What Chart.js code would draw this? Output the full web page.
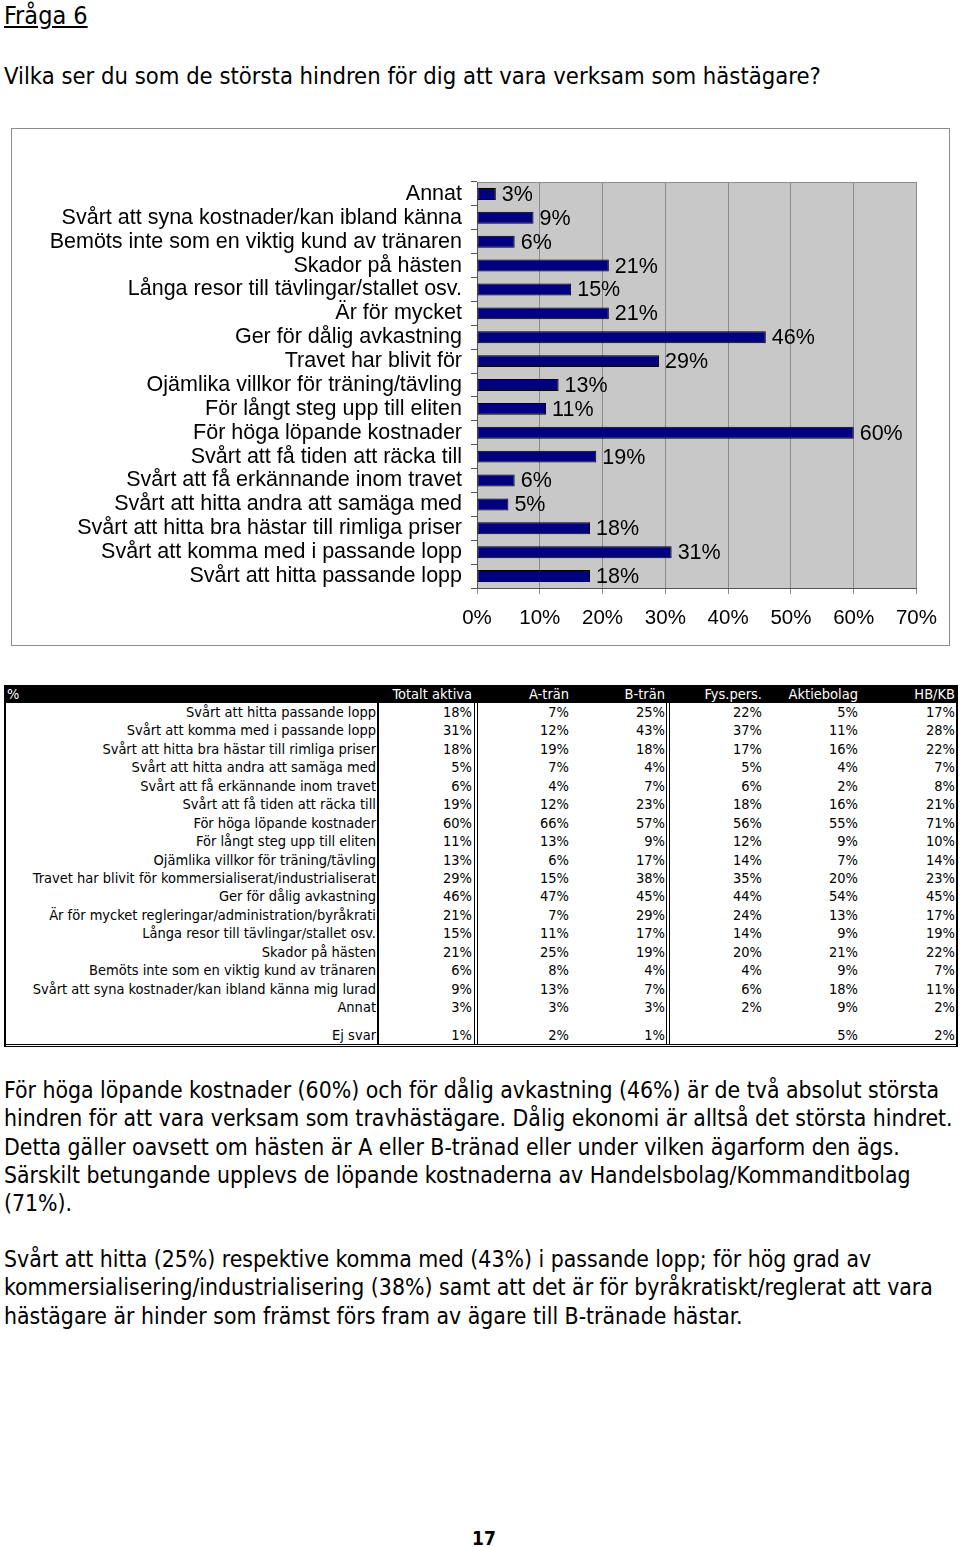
<!DOCTYPE html>
<html lang="sv">
<head>
<meta charset="utf-8">
<title>Fråga 6</title>
<script src="https://cdn.jsdelivr.net/npm/chart.js@4.4.0/dist/chart.umd.min.js"></script>
<style>
  body { margin: 0; background: #fff; width: 960px; height: 1547px; position: relative; overflow: hidden;
         font-family: 'DejaVu Sans Condensed', 'DejaVu Sans', sans-serif; color: #000; }
  .abs { position: absolute; white-space: nowrap; }
  #heading { left: 4px; top: 2px; font-size: 25px; line-height: 28px; text-decoration: underline; }
  #question { left: 4px; top: 62px; font-size: 23.6px; line-height: 28px; }
  #chart-box { left: 11px; top: 128px; width: 937px; height: 516px; border: 1px solid #8c8c8c; }
  .cell { position: absolute; font-size: 14.5px; white-space: nowrap; }
  .line { position: absolute; background: #000; }
  .text { left: 4px; font-size: 22.8px; line-height: 28.3px; }
  #page-no { left: 472px; top: 1527px; font-size: 19px; font-weight: bold; }
</style>
</head>
<body>

<div id="heading" class="abs">Fråga 6</div>
<div id="question" class="abs">Vilka ser du som de största hindren för dig att vara verksam som hästägare?</div>

<div id="chart-box" class="abs">
  <canvas id="hinder-chart"></canvas>
</div>

<div id="table"></div>

<div class="abs text" style="top:1076px">För höga löpande kostnader (60%) och för dålig avkastning (46%) är de två absolut största<br>hindren för att vara verksam som travhästägare. Dålig ekonomi är alltså det största hindret.<br>Detta gäller oavsett om hästen är A eller B-tränad eller under vilken ägarform den ägs.<br>Särskilt betungande upplevs de löpande kostnaderna av Handelsbolag/Kommanditbolag<br>(71%).</div>

<div class="abs text" style="top:1245px">Svårt att hitta (25%) respektive komma med (43%) i passande lopp; för hög grad av<br>kommersialisering/industrialisering (38%) samt att det är för byråkratiskt/reglerat att vara<br>hästägare är hinder som främst förs fram av ägare till B-tränade hästar.</div>

<div id="page-no" class="abs">17</div>

<script>
// categories in table order (the chart shows them bottom to top)
const categories = [
    'Svårt att hitta passande lopp',
    'Svårt att komma med i passande lopp',
    'Svårt att hitta bra hästar till rimliga priser',
    'Svårt att hitta andra att samäga med',
    'Svårt att få erkännande inom travet',
    'Svårt att få tiden att räcka till',
    'För höga löpande kostnader',
    'För långt steg upp till eliten',
    'Ojämlika villkor för träning/tävling',
    'Travet har blivit för kommersialiserat/industrialiserat',
    'Ger för dålig avkastning',
    'Är för mycket regleringar/administration/byråkrati',
    'Långa resor till tävlingar/stallet osv.',
    'Skador på hästen',
    'Bemöts inte som en viktig kund av tränaren',
    'Svårt att syna kostnader/kan ibland känna mig lurad',
    'Annat'
];

// the chart's own (cut) axis labels
const chartLabels = [
    'Svårt att hitta passande lopp',
    'Svårt att komma med i passande lopp',
    'Svårt att hitta bra hästar till rimliga priser',
    'Svårt att hitta andra att samäga med',
    'Svårt att få erkännande inom travet',
    'Svårt att få tiden att räcka till',
    'För höga löpande kostnader',
    'För långt steg upp till eliten',
    'Ojämlika villkor för träning/tävling',
    'Travet har blivit för',
    'Ger för dålig avkastning',
    'Är för mycket',
    'Långa resor till tävlingar/stallet osv.',
    'Skador på hästen',
    'Bemöts inte som en viktig kund av tränaren',
    'Svårt att syna kostnader/kan ibland känna',
    'Annat'
];

const totaltAktiva = [18, 31, 18, 5, 6, 19, 60, 11, 13, 29, 46, 21, 15, 21, 6, 9, 3];
const aTran        = [7, 12, 19, 7, 4, 12, 66, 13, 6, 15, 47, 7, 11, 25, 8, 13, 3];
const bTran        = [25, 43, 18, 4, 7, 23, 57, 9, 17, 38, 45, 29, 17, 19, 4, 7, 3];
const fysPers      = [22, 37, 17, 5, 6, 18, 56, 12, 14, 35, 44, 24, 14, 20, 4, 6, 2];
const aktiebolag   = [5, 11, 16, 4, 2, 16, 55, 9, 7, 20, 54, 13, 9, 21, 9, 18, 9];
const hbKb         = [17, 28, 22, 7, 8, 21, 71, 10, 14, 23, 45, 17, 19, 22, 7, 11, 2];
const ejSvar       = [1, 2, 1, null, 5, 2];

const columnHeaders = ['Totalt aktiva', 'A-trän', 'B-trän', 'Fys.pers.', 'Aktiebolag', 'HB/KB'];
const xTicks = [0, 10, 20, 30, 40, 50, 60, 70];

// ---------- table ----------
const buildTable = () => {
    const table = document.getElementById('table');
    const columns = [totaltAktiva, aTran, bTran, fysPers, aktiebolag, hbKb];
    const rights = [472, 569, 665, 762, 858, 955];
    const rowH = 18.44;
    const firstRow = 703;

    const addCell = (text, right, top, color) => {
        const div = document.createElement('div');
        div.className = 'cell';
        div.textContent = text;
        div.style.right = (960 - right) + 'px';
        div.style.top = top + 'px';
        div.style.height = rowH + 'px';
        div.style.lineHeight = rowH + 'px';
        if (color) div.style.color = color;
        table.appendChild(div);
    };
    const addLine = (left, top, width, height) => {
        const div = document.createElement('div');
        div.className = 'line';
        div.style.left = left + 'px';
        div.style.top = top + 'px';
        div.style.width = width + 'px';
        div.style.height = height + 'px';
        table.appendChild(div);
    };

    // header row
    addLine(4, 685, 954, 18);
    const pct = document.createElement('div');
    pct.className = 'cell';
    pct.textContent = '%';
    pct.style.left = '7px';
    pct.style.top = '685px';
    pct.style.lineHeight = '18px';
    pct.style.color = '#fff';
    table.appendChild(pct);
    columnHeaders.forEach((h, c) => addCell(h, rights[c], 685, '#fff'));

    categories.forEach((cat, r) => {
        const top = firstRow + r * rowH;
        addCell(cat, 376, top);
        columns.forEach((col, c) => addCell(col[r] + '%', rights[c], top));
    });

    const ejTop = firstRow + categories.length * rowH + 9.5;
    addCell('Ej svar', 376, ejTop);
    ejSvar.forEach((v, c) => { if (v !== null) addCell(v + '%', rights[c], ejTop); });

    const bottom = ejTop + rowH;
    addLine(4, 685, 2, bottom - 685 + 2);
    addLine(956, 685, 2, bottom - 685 + 2);
    addLine(377, 703, 2, bottom - 703);
    addLine(474, 703, 1, bottom - 703);
    addLine(477, 703, 1, bottom - 703);
    addLine(666, 703, 1, bottom - 703);
    addLine(669, 703, 1, bottom - 703);
    addLine(4, bottom, 954, 1);
    addLine(4, bottom + 2, 954, 1);
};

// ---------- chart ----------
const plotArea = {
    id: 'plotArea',
    beforeDraw(chart) {
        const { ctx, chartArea: a } = chart;
        ctx.save();
        ctx.fillStyle = '#c8c8c8';
        ctx.fillRect(a.left, a.top, a.right - a.left, a.bottom - a.top);
        ctx.strokeStyle = '#8c8c8c';
        ctx.lineWidth = 1;
        ctx.beginPath();
        ctx.moveTo(a.left, a.top + 0.5);
        ctx.lineTo(a.right, a.top + 0.5);
        ctx.stroke();
        ctx.restore();
    }
};

const valueLabels = {
    id: 'valueLabels',
    afterDatasetsDraw(chart) {
        const ctx = chart.ctx;
        const meta = chart.getDatasetMeta(0);
        ctx.save();
        ctx.font = "21.5px 'Liberation Sans', Arial, sans-serif";
        ctx.fillStyle = '#000';
        ctx.textAlign = 'left';
        ctx.textBaseline = 'middle';
        meta.data.forEach((bar, i) => {
            ctx.fillText(totaltAktiva[i] + '%', bar.x + 6, bar.y + 1);
        });
        ctx.restore();
    }
};

const initChart = () => {
    Chart.defaults.font.family = "'Liberation Sans', Arial, Helvetica, sans-serif";
    Chart.defaults.color = '#000';
    const ctx = document.getElementById('hinder-chart');

    new Chart(ctx, {
        type: 'bar',
        data: {
            labels: chartLabels,
            datasets: [
                {
                    data: totaltAktiva,
                    backgroundColor: '#000080',
                    borderColor: '#000',
                    borderWidth: 1,
                    borderSkipped: false,
                    barPercentage: 0.5,
                    categoryPercentage: 1.0
                }
            ]
        },
        options: {
            indexAxis: 'y',
            responsive: true,
            maintainAspectRatio: false,
            devicePixelRatio: 1,
            animation: false,
            layout: {
                padding: { top: 53, right: 26, bottom: 15, left: 0 }
            },
            scales: {
                x: {
                    min: 0,
                    max: 70,
                    afterBuildTicks: (scale) => {
                        scale.ticks = xTicks.map((v) => ({ value: v }));
                    },
                    afterFit: (scale) => { scale.height = 42; },
                    ticks: {
                        callback: (v) => v + '%',
                        color: '#000',
                        font: { size: 20.5 },
                        padding: 12,
                        maxRotation: 0
                    },
                    grid: {
                        color: '#8c8c8c',
                        tickLength: 6
                    },
                    border: { color: '#555' }
                },
                y: {
                    reverse: true,
                    afterFit: (scale) => { scale.width = 465; },
                    ticks: {
                        autoSkip: false,
                        color: '#000',
                        font: { size: 21.5 },
                        padding: 9
                    },
                    grid: {
                        drawOnChartArea: false,
                        offset: true,
                        tickLength: 6,
                        color: '#555'
                    },
                    border: { color: '#555' }
                }
            },
            plugins: {
                legend: { display: false },
                title: { display: false },
                tooltip: {
                    callbacks: {
                        label: (context) => context.formattedValue + '%'
                    }
                }
            }
        },
        plugins: [plotArea, valueLabels]
    });
};

buildTable();
initChart();
</script>
</body>
</html>
